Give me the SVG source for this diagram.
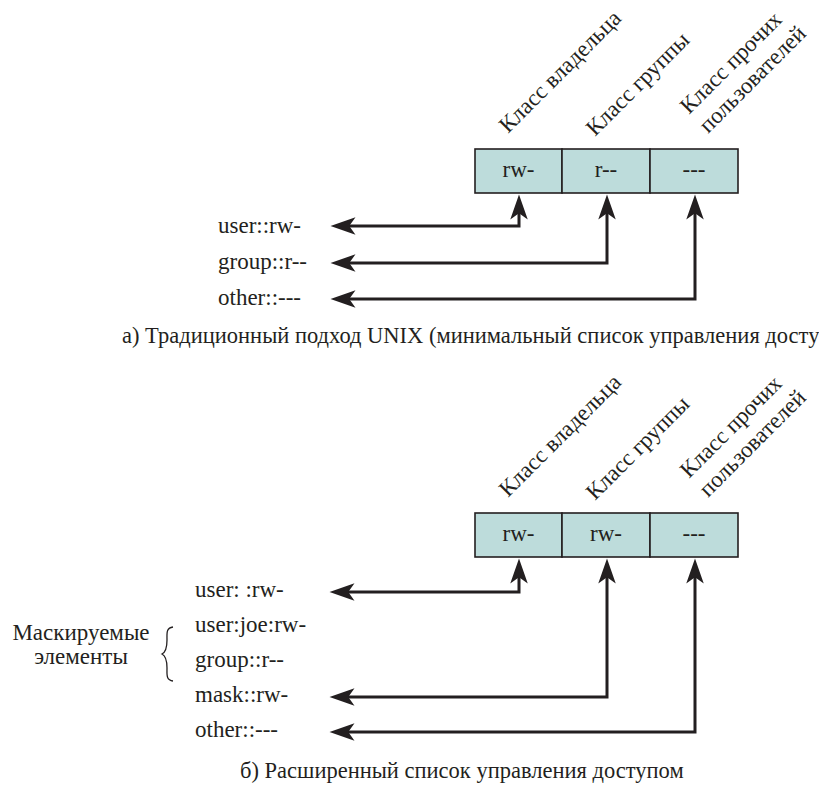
<svg xmlns="http://www.w3.org/2000/svg" width="819" height="789" viewBox="0 0 819 789">
<style>
text{fill:#231f20;font-family:"Liberation Serif","Times New Roman",serif;font-size:23px}
.cap{font-size:22.5px}
.cell{fill:#bddcdb;stroke:#231f20;stroke-width:1.6}
.c{text-anchor:middle}
.conn{fill:none;stroke:#231f20;stroke-width:3;marker-start:url(#ah);marker-end:url(#ah)}
</style>
<defs>
<marker id="ah" markerUnits="userSpaceOnUse" markerWidth="30" markerHeight="20" viewBox="-12 -8 24 16" refX="0" refY="0" orient="auto-start-reverse">
<path d="M10,0 L-10,-7 L-5,0 L-10,7 Z" fill="#231f20"/>
</marker>
</defs>

<g id="a-labels">
<text transform="translate(508,134) rotate(-45)">Класс владельца</text>
<text transform="translate(595,137) rotate(-45)">Класс группы</text>
<text transform="translate(689,115) rotate(-45)">Класс прочих</text>
<text transform="translate(708,134) rotate(-45)">пользователей</text>
</g>
<g id="a-box">
<rect class="cell" x="475" y="149" width="87" height="44"/>
<rect class="cell" x="562" y="149" width="88" height="44"/>
<rect class="cell" x="650" y="149" width="88" height="44"/>
<text class="c" x="518.5" y="177">rw-</text>
<text class="c" x="606" y="177">r--</text>
<text class="c" x="694" y="177">---</text>
</g>
<g id="a-entries">
<text x="218" y="233">user::rw-</text>
<text x="218" y="269">group::r--</text>
<text x="218" y="305">other::---</text>
</g>
<g id="a-connectors">
<path class="conn" d="M343,226 H519 V207"/>
<path class="conn" d="M343,263 H607 V207"/>
<path class="conn" d="M343,299 H695 V207"/>
</g>
<g id="a-caption">
<text class="cap" x="122" y="343">а) Традиционный подход UNIX (минимальный список управления доступом)</text>
</g>

<g id="b-labels">
<text transform="translate(508,498) rotate(-45)">Класс владельца</text>
<text transform="translate(595,501) rotate(-45)">Класс группы</text>
<text transform="translate(689,479) rotate(-45)">Класс прочих</text>
<text transform="translate(708,498) rotate(-45)">пользователей</text>
</g>
<g id="b-box">
<rect class="cell" x="475" y="513" width="87" height="44"/>
<rect class="cell" x="562" y="513" width="88" height="44"/>
<rect class="cell" x="650" y="513" width="88" height="44"/>
<text class="c" x="518.5" y="541">rw-</text>
<text class="c" x="606" y="541">rw-</text>
<text class="c" x="694" y="541">---</text>
</g>
<g id="b-entries">
<text x="195" y="597">user: :rw-</text>
<text x="195" y="632">user:joe:rw-</text>
<text x="195" y="667">group::r--</text>
<text x="195" y="702">mask::rw-</text>
<text x="195" y="737">other::---</text>
</g>
<g id="b-masked">
<text class="c" x="81" y="640">Маскируемые</text>
<text class="c" x="81" y="664">элементы</text>
<path d="M173,627 C166,628 167,633 167,640 C167,647 166,652 162,654 C166,656 167,661 167,668 C167,675 166,680 173,681" fill="none" stroke="#231f20" stroke-width="1.3"/>
</g>
<g id="b-connectors">
<path class="conn" d="M342,592 H519 V571"/>
<path class="conn" d="M342,697 H607 V571"/>
<path class="conn" d="M342,732 H695 V571"/>
</g>
<g id="b-caption">
<text class="cap" x="240" y="778">б) Расширенный список управления доступом</text>
</g>
</svg>
